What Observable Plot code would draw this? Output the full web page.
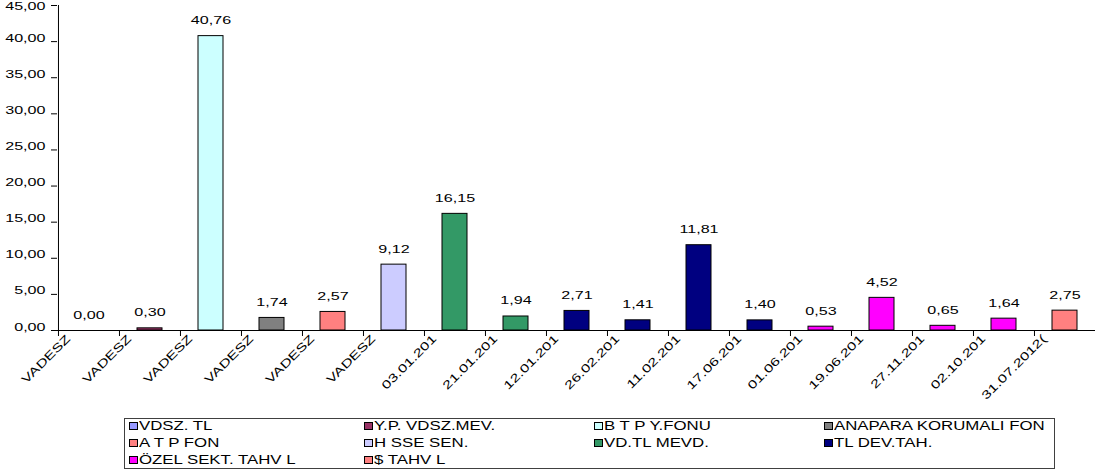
<!DOCTYPE html>
<html><head><meta charset="utf-8">
<script src="https://cdn.jsdelivr.net/npm/d3@7"></script>
<script src="https://cdn.jsdelivr.net/npm/@observablehq/plot@0.6"></script>
<style>
body{margin:0;background:#fff;font-family:"Liberation Sans",Arial,sans-serif;width:1095px;height:472px;overflow:hidden;position:relative}
#chart svg{display:block}
#legend{position:absolute;left:124px;top:418px;width:929px;height:49px;border:1px solid #404040;background:#fff}
.item{position:absolute;height:14px;line-height:14px;white-space:nowrap;font-size:12px;color:#000}
.sw{position:absolute;left:0;top:3px;width:7px;height:6px;border:1px solid #000}
.lbl{position:absolute;left:10px;top:0;display:inline-block;transform:scaleX(1.4);transform-origin:left center}
</style></head><body>
<div id="chart"></div><div id="legend"></div>
<script>
// category tick labels (as shown on the axis)
const categories = ["VADESZ","VADESZ","VADESZ","VADESZ","VADESZ","VADESZ",
  "03.01.201","21.01.201","12.01.201","26.02.201","11.02.201","17.06.201",
  "01.06.201","19.06.201","27.11.201","02.10.201","31.07.2012("];
// series each bar belongs to
const barSeries = ["VDSZ. TL","Y.P. VDSZ.MEV.","B T P  Y.FONU","ANAPARA KORUMALI FON","A T P  FON","H SSE SEN.",
  "VD.TL MEVD.","VD.TL MEVD.","TL DEV.TAH.","TL DEV.TAH.","TL DEV.TAH.","TL DEV.TAH.",
  "ÖZEL SEKT. TAHV L","ÖZEL SEKT. TAHV L","ÖZEL SEKT. TAHV L","ÖZEL SEKT. TAHV L","$ TAHV L"];
// bar values
const values = [0.00,0.30,40.76,1.74,2.57,9.12,16.15,1.94,2.71,1.41,11.81,1.40,0.53,4.52,0.65,1.64,2.75];
// legend series and colours
const seriesNames = ["VDSZ. TL","Y.P. VDSZ.MEV.","B T P  Y.FONU","ANAPARA KORUMALI FON",
  "A T P  FON","H SSE SEN.","VD.TL MEVD.","TL DEV.TAH.","ÖZEL SEKT. TAHV L","$ TAHV L"];
const seriesColors = ["#9999FF","#993366","#CCFFFF","#808080","#FF8080","#CCCCFF","#339966","#000080","#FF00FF","#FF8080"];
// y ticks
const yTicks = [0,5,10,15,20,25,30,35,40,45];
const yMax = 45;

const fmt = d3.formatLocale({decimal:",",thousands:".",grouping:[3],currency:["",""]}).format(".2f");
const data = categories.map((label,i)=>({key:i,label,series:barSeries[i],value:values[i]}));

const W=1095,H=418,ML=57,MR=0,MT=5,MB=88;
const step=(W-ML-MR)/categories.length;
const tickUnits = 6*yMax/(H-MT-MB);
const SX=1.4;

const chart = Plot.plot({
  width:W,height:H,marginLeft:ML,marginRight:MR,marginTop:MT,marginBottom:MB,
  style:{fontFamily:"Liberation Sans, Arial, sans-serif",fontSize:"11.5px",color:"#000",background:"#fff",overflow:"visible"},
  x:{type:"band",domain:data.map(d=>d.key),padding:0,axis:null},
  y:{domain:[0,yMax],axis:null},
  color:{domain:seriesNames,range:seriesColors},
  marks:[
    Plot.axisY(yTicks,{tickFormat:d=>d===yMax?"":fmt(d),tickSize:6,tickPadding:6,stroke:"#000",fill:"#000",label:null}),
    Plot.text([yMax],{y:d=>d,text:fmt,frameAnchor:"left",textAnchor:"end",dx:-12,dy:4,fill:"#000"}),
    Plot.barY(data,{x:"key",y:"value",fill:"series",stroke:"#000",strokeWidth:1,insetLeft:18,insetRight:18}),
    Plot.ruleY([0],{stroke:"#000"}),
    Plot.ruleX([data[0].key],{dx:-step/2,y1:0,y2:yMax,stroke:"#000"}),
    Plot.ruleX(data,{x:"key",y1:0,y2:-tickUnits,dx:-step/2,stroke:"#000"}),
    Plot.text(data,{x:"key",y:"value",text:d=>fmt(d.value),dy:-12,fill:"#000"}),
    Plot.text(data,{x:"key",y:0,text:"label",rotate:-45,textAnchor:"end",lineAnchor:"middle",dx:-18,dy:9,fill:"#000"})
  ]
});
chart.querySelectorAll("text").forEach(t=>{
  const x=+t.getAttribute("x")||0,y=+t.getAttribute("y")||0;
  const tr=t.getAttribute("transform")||"";
  t.removeAttribute("x");t.removeAttribute("y");
  t.setAttribute("transform",`${tr} translate(${x},${y}) scale(${SX},1)`);
});
document.getElementById("chart").appendChild(chart);

const legend=document.getElementById("legend");
const colX=[4,239,469,699], rowY=[0,17,34];
seriesNames.forEach((s,i)=>{
  const it=document.createElement("div");it.className="item";
  it.style.left=colX[i%4]+"px";it.style.top=rowY[Math.floor(i/4)]+"px";
  const sw=document.createElement("span");sw.className="sw";sw.style.background=seriesColors[i];
  const lb=document.createElement("span");lb.className="lbl";lb.textContent=s;
  it.appendChild(sw);it.appendChild(lb);legend.appendChild(it);
});
</script></body></html>
